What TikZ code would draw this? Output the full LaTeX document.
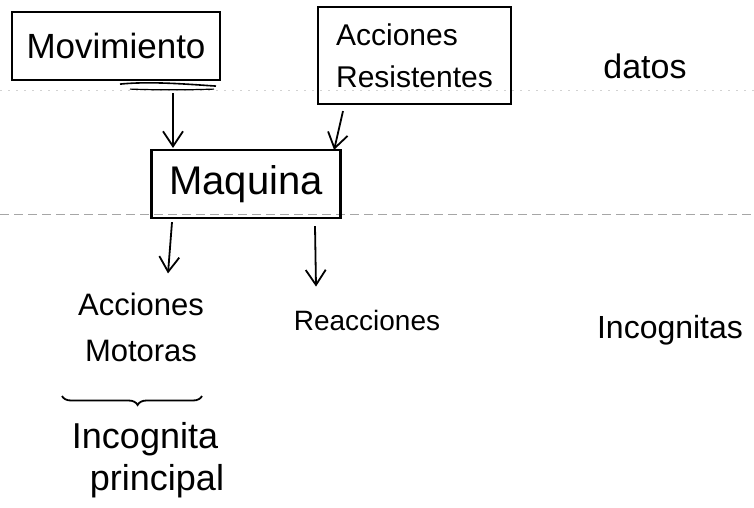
\documentclass[tikz,border=0pt]{standalone}
\usepackage{fontspec}
\setmainfont{Liberation Sans}
\usetikzlibrary{arrows.meta,decorations.pathreplacing,calc}
\begin{document}
\begin{tikzpicture}[x=1pt,y=-1pt,
  box/.style={draw, line width=2.2pt, inner sep=0pt},
  lbl/.style={inner sep=0pt, align=center},
  arr/.style={line width=1.8pt, -{Straight Barb[length=15pt,width=20pt,line width=1.8pt]}},
  rule/.style={gray!70, line width=0.9pt, dash pattern=on 9pt off 5pt},
  faint/.style={gray!35, line width=0.6pt, dash pattern=on 2pt off 6pt},
  ]
\useasboundingbox (0,0) rectangle (754,508);
% ruled lines of the paper
\draw[faint] (0,90) -- (754,90);
\draw[rule] (0,214) -- (754,214);
% boxes
\node[box, minimum width=208pt, minimum height=68pt, font=\fontsize{35}{40}\selectfont] (mov) at (116,46) {Movimiento};
\node[box, minimum width=193pt, minimum height=97pt, align=left, font=\fontsize{30}{42}\selectfont] (acc) at (414.5,55.5) {Acciones\\Resistentes};
\node[lbl, font=\fontsize{34}{40}\selectfont] (dat) at (645,66) {datos};
\node[box, minimum width=189pt, minimum height=68pt, font=\fontsize{40}{46}\selectfont] (maq) at (246,184) {Maquina};
% lower labels
\node[lbl, font=\fontsize{31}{46}\selectfont] (am) at (141,327) {Acciones\\Motoras};
\node[lbl, font=\fontsize{28}{32}\selectfont] (rea) at (367,320) {Reacciones};
\node[lbl, font=\fontsize{32}{38}\selectfont] (inc) at (670,330) {Incognitas};
\node[lbl, align=left, font=\fontsize{36}{42}\selectfont] (incp) at (148,460) {Incognita\\\hspace*{18pt}principal};
% underline swoosh under Movimiento
\draw[line width=1.6pt] ([xshift=4pt,yshift=-3pt]mov.south) .. controls +(30,-3) and +(-30,-2) .. ([xshift=100pt,yshift=-5pt]mov.south);
\draw[line width=1.2pt] ([xshift=14pt,yshift=-8pt]mov.south) .. controls +(30,1) and +(-30,1) .. ([xshift=98pt,yshift=-8pt]mov.south);
% arrows
\draw[arr] ([xshift=57pt,yshift=-12pt]mov.south) -- ([xshift=-73pt,yshift=1pt]maq.north);
\draw[arr] ([xshift=-71.5pt,yshift=-6pt]acc.south) -- ([xshift=-7.5pt,yshift=-1pt]maq.north east);
\draw[arr] ([xshift=-74pt,yshift=-3pt]maq.south) -- ([xshift=27pt,yshift=19pt]am.north);
\draw[arr] ([xshift=69pt,yshift=-7pt]maq.south) -- ([xshift=-51pt,yshift=23pt]rea.north);
% brace
\coordinate (b1) at (62,396);
\coordinate (b2) at (202,396);
\draw[line width=1.8pt, decorate, decoration={brace, mirror, amplitude=9pt, aspect=0.54}] (b1) -- (b2);
\end{tikzpicture}
\end{document}
